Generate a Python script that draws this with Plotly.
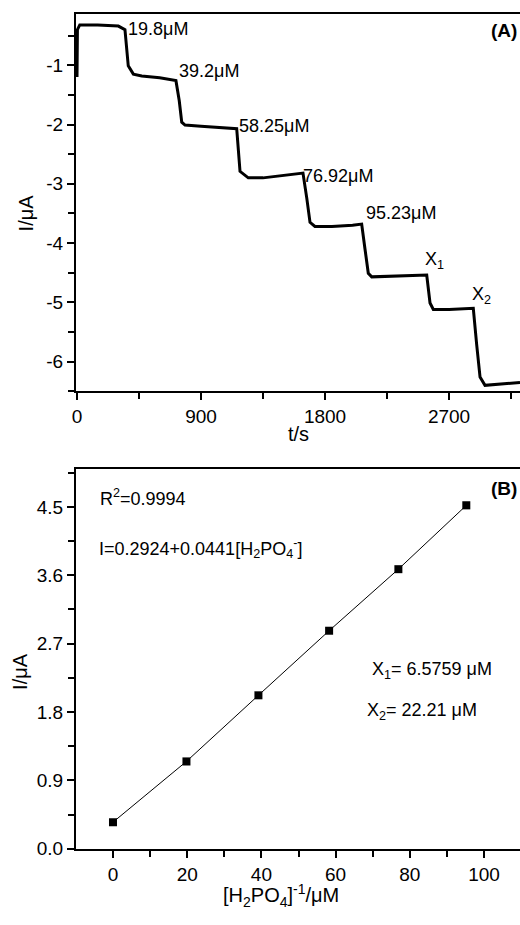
import plotly.graph_objects as go

# ---------------- Panel (A): amperometric trace ----------------
time_s = [0, 3, 20, 150, 300, 348,
          372, 409, 470, 600, 718,
          742, 760, 784, 900, 1050, 1159,
          1183, 1243, 1350, 1500, 1640,
          1668, 1691, 1727, 1850, 2000, 2066,
          2090, 2114, 2139, 2300, 2450, 2538,
          2562, 2586, 2700, 2876,
          2900, 2925, 2961, 3080, 3215]
current_uA = [-1.2, -0.4, -0.32, -0.32, -0.34, -0.4,
              -1.01, -1.15, -1.18, -1.21, -1.26,
              -1.6, -1.96, -2.01, -2.03, -2.05, -2.07,
              -2.79, -2.9, -2.9, -2.86, -2.82,
              -3.25, -3.65, -3.72, -3.72, -3.7, -3.68,
              -4.1, -4.51, -4.57, -4.56, -4.55, -4.54,
              -5.01, -5.12, -5.12, -5.1,
              -5.7, -6.26, -6.4, -6.38, -6.35]

step_labels = ["19.8μM", "39.2μM", "58.25μM", "76.92μM", "95.23μM", "X<sub>1</sub>", "X<sub>2</sub>"]
label_t = [356, 726, 1161, 1626, 2083, 2511, 2852]
label_i = [-0.39, -1.10, -2.02, -2.87, -3.50, -4.30, -4.88]

a_xticks = [0, 900, 1800, 2700]
a_yticks = [-1, -2, -3, -4, -5, -6]
a_yticktext = ["-1", "-2", "-3", "-4", "-5", "-6"]

# ---------------- Panel (B): calibration ----------------
conc_uM = [0, 19.8, 39.2, 58.25, 76.92, 95.23]
resp_uA = [0.35, 1.15, 2.02, 2.87, 3.68, 4.52]
b_xticks = [0, 20, 40, 60, 80, 100]
b_yticks = [0.0, 0.9, 1.8, 2.7, 3.6, 4.5]
b_yticktext = ["0.0", "0.9", "1.8", "2.7", "3.6", "4.5"]

FONT = "Liberation Sans, Arial, sans-serif"
W, H = 520, 925
L = 76

fig = go.Figure()
fig.add_trace(go.Scatter(x=time_s, y=current_uA, mode="lines",
                         line=dict(color="black", width=3),
                         xaxis="x", yaxis="y", showlegend=False))
fig.add_trace(go.Scatter(x=conc_uM, y=resp_uA, mode="lines+markers",
                         line=dict(color="black", width=1),
                         marker=dict(symbol="square", size=8, color="black"),
                         xaxis="x2", yaxis="y2", showlegend=False))

def py(p):
    return (H - p) / H

def px(p):
    return (p - L) / (W - L)

axis_common = dict(showline=True, linewidth=2, linecolor="black", showgrid=False,
                   zeroline=False, ticks="outside", ticklen=7, tickwidth=2,
                   tickcolor="black", tickfont=dict(family=FONT, size=19, color="black"))
minor_common = dict(ticks="outside", ticklen=6, tickwidth=2, tickcolor="black")

fig.update_layout(
    width=W, height=H,
    margin=dict(l=L, r=0, t=0, b=0),
    paper_bgcolor="white", plot_bgcolor="white",
    font=dict(family=FONT, color="black"),
    xaxis=dict(domain=[0, 1], anchor="y", range=[-7.3, 3215], mirror=True,
               tickvals=a_xticks, minor=dict(dtick=450, tick0=0, **minor_common),
               **axis_common),
    yaxis=dict(domain=[py(396), py(14)], anchor="x", range=[-6.5, -0.133],
               tickvals=a_yticks, ticktext=a_yticktext,
               minor=dict(dtick=0.5, tick0=0, **minor_common),
               **axis_common),
    xaxis2=dict(domain=[0, 1], anchor="y2", range=[-9.97, 109.7], mirror=True,
                tickvals=b_xticks, minor=dict(dtick=10, tick0=0, **minor_common),
                **axis_common),
    yaxis2=dict(domain=[py(859), py(475)], anchor="x2", range=[0, 4.994],
                tickvals=b_yticks, ticktext=b_yticktext,
                minor=dict(dtick=0.45, tick0=0, **minor_common),
                **axis_common),
)

ann = []
for txt, t, i in zip(step_labels, label_t, label_i):
    ann.append(dict(x=t, y=i, xref="x", yref="y", text=txt, showarrow=False,
                    xanchor="left", yanchor="middle", font=dict(family=FONT, size=18)))

ann += [
    dict(x=px(298), y=py(439), xref="paper", yref="paper", text="t/s", showarrow=False,
         xanchor="center", yanchor="middle", font=dict(family=FONT, size=20)),
    dict(x=px(26), y=py(216), xref="paper", yref="paper", text="I/μA", showarrow=False,
         textangle=-90, xanchor="center", yanchor="middle", font=dict(family=FONT, size=20)),
    dict(x=px(519), y=py(31), xref="paper", yref="paper", text="<b>(A)</b>", showarrow=False,
         xanchor="right", yanchor="middle", font=dict(family=FONT, size=19)),
    dict(x=px(281), y=py(906), xref="paper", yref="paper",
         text="[H<sub>2</sub>PO<sub>4</sub>]<sup>-1</sup>/μM", showarrow=False,
         xanchor="center", yanchor="middle", font=dict(family=FONT, size=20)),
    dict(x=px(20), y=py(680), xref="paper", yref="paper", text="I/μA", showarrow=False,
         textangle=-90, xanchor="center", yanchor="middle", font=dict(family=FONT, size=20)),
    dict(x=px(519), y=py(494), xref="paper", yref="paper", text="<b>(B)</b>", showarrow=False,
         xanchor="right", yanchor="middle", font=dict(family=FONT, size=19)),
    dict(x=-4.0, y=4.63, xref="x2", yref="y2", text="R<sup>2</sup>=0.9994", showarrow=False,
         xanchor="left", yanchor="middle", font=dict(family=FONT, size=18)),
    dict(x=-4.3, y=3.95, xref="x2", yref="y2",
         text="I=0.2924+0.0441[H<sub>2</sub>PO<sub>4</sub><sup>-</sup>]", showarrow=False,
         xanchor="left", yanchor="middle", font=dict(family=FONT, size=18)),
    dict(x=69.3, y=2.35, xref="x2", yref="y2", text="X<sub>1</sub>= 6.5759 μM", showarrow=False,
         xanchor="left", yanchor="middle", font=dict(family=FONT, size=18)),
    dict(x=67.9, y=1.81, xref="x2", yref="y2", text="X<sub>2</sub>= 22.21 μM", showarrow=False,
         xanchor="left", yanchor="middle", font=dict(family=FONT, size=18)),
]
fig.update_layout(annotations=ann)

page_css = ("document.documentElement.style.overflow='hidden';"
            "document.body.style.overflow='hidden';"
            "document.body.style.margin='0';")
fig.write_html("out.html", config={"responsive": False, "displayModeBar": False},
               post_script=page_css)
